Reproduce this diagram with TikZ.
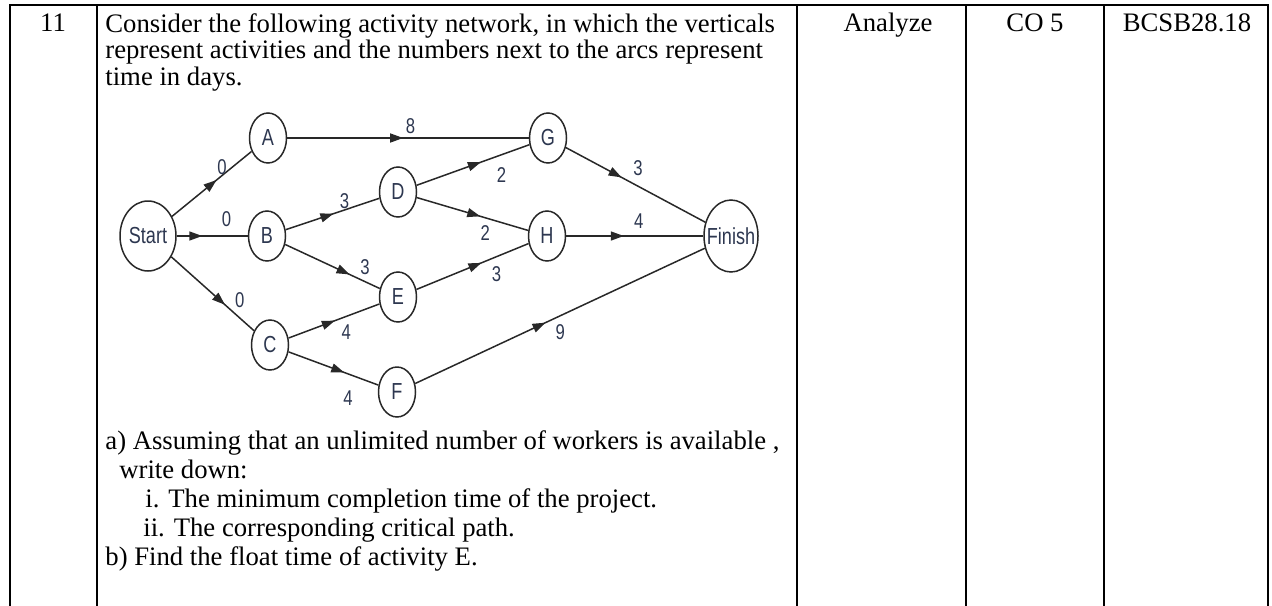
\documentclass[tikz,border=0pt]{standalone}
\usepackage{fontspec}
\setmainfont{Liberation Serif}
\newfontfamily\netsans{Liberation Sans}
\usetikzlibrary{arrows.meta,positioning,shapes.geometric,decorations.markings}

\definecolor{netline}{RGB}{40,40,40}
\definecolor{netlabel}{RGB}{45,55,80}
\newcommand{\nar}[1]{\makebox[0pt]{\scalebox{0.78}[1]{#1}}}

\begin{document}
\begin{tikzpicture}[x=0.5pt, y=-0.5pt,
  rule/.style={line width=1.3pt, line cap=rect},
  txt/.style={inner sep=0pt, font=\fontsize{13.35}{13.25}\selectfont},
  act/.style={draw=netline, ellipse, line width=0.75pt, inner sep=0pt, minimum width=18.5pt, minimum height=25pt, text=netlabel, font=\netsans\fontsize{11.6}{12}\selectfont},
  term/.style={act, minimum width=28pt, minimum height=35pt},
  flow/.style={draw=netline, line width=0.75pt, decoration={markings, mark=at position #1 with {\arrow{Triangle[length=6.5pt, width=4.5pt]}}}, postaction={decorate}},
  dur/.style={inner sep=0pt, text=netlabel, font=\netsans\fontsize{10.7}{11}\selectfont}
]
\useasboundingbox (0,0) rectangle (1272,605);

% table rules
\draw[rule] (10,5) -- (1268,5);
\foreach \x in {10,97,797,966,1104,1268}
  \draw[rule] (\x,5) -- (\x,605);

% header cells
\node[txt, anchor=base] (num) at (53,31) {11};
\node[txt, anchor=base] (level) at (888,31) {Analyze};
\node[txt, anchor=base] (co) at (1035,31) {CO 5};
\node[txt, anchor=base] (code) at (1187,31) {BCSB28.18};

% question text
\node[txt, anchor=north west, align=left] (intro) at (105,13) {Consider the following activity network, in which the verticals\\represent activities and the numbers next to the arcs represent\\time in days.};
\node[txt, anchor=north west, align=left, font=\fontsize{13.35}{14.5}\selectfont] (parts) at (105,430) {a) Assuming that an unlimited number of workers is available ,\\\hspace*{7pt}write down:\\\hspace*{20pt}i. The minimum completion time of the project.\\\hspace*{19pt}ii. The corresponding critical path.\\b) Find the float time of activity E.};

% activity network
\node[term] (start) at (148,236) {\nar{Start}};
\node[act] (a) at (268,138) {\nar{A}};
\node[act] (b) at (267,236) {\nar{B}};
\node[act] (c) at (270,345) {\nar{C}};
\node[act] (d) at (398,192) {\nar{D}};
\node[act] (e) at (398,297) {\nar{E}};
\node[act] (f) at (397,392) {\nar{F}};
\node[act] (g) at (548,138) {\nar{G}};
\node[act] (h) at (547,236) {\nar{H}};
\node[term, minimum width=27pt, minimum height=36pt] (finish) at (731,236) {\nar{Finish}};

\draw[flow=0.56] (start) -- node[dur, pos=0.68, shift={(-4,-5)}] {\nar{0}} (a);
\draw[flow=0.36] (start) -- node[dur, pos=0.70, shift={(0,-17)}] {\nar{0}} (b);
\draw[flow=0.65] (start) -- node[dur, pos=0.72, shift={(9,-10)}] {\nar{0}} (c);
\draw[flow=0.51] (b) -- node[dur, pos=0.66, shift={(-3,-8)}] {\nar{3}} (d);
\draw[flow=0.68] (b) -- node[dur, pos=0.78, shift={(6,-12)}] {\nar{3}} (e);
\draw[flow=0.51] (c) -- node[dur, pos=0.58, shift={(5,14)}] {\nar{4}} (e);
\draw[flow=0.62] (c) -- node[dur, pos=0.75, shift={(-8,21)}] {\nar{4}} (f);
\draw[flow=0.48] (a) -- node[dur, pos=0.51, shift={(0,-12)}] {\nar{8}} (g);
\draw[flow=0.57] (d) -- node[dur, pos=0.70, shift={(6,18)}] {\nar{2}} (g);
\draw[flow=0.57] (d) -- node[dur, pos=0.65, shift={(-4,14)}] {\nar{2}} (h);
\draw[flow=0.58] (e) -- node[dur, pos=0.66, shift={(6,15)}] {\nar{3}} (h);
\draw[flow=0.40] (g) -- node[dur, pos=0.46, shift={(8,-14)}] {\nar{3}} (finish);
\draw[flow=0.42] (h) -- node[dur, pos=0.53, shift={(0,-15)}] {\nar{4}} (finish);
\draw[flow=0.45] (f) -- node[dur, pos=0.48, shift={(6,14)}] {\nar{9}} (finish);
\end{tikzpicture}
\end{document}
